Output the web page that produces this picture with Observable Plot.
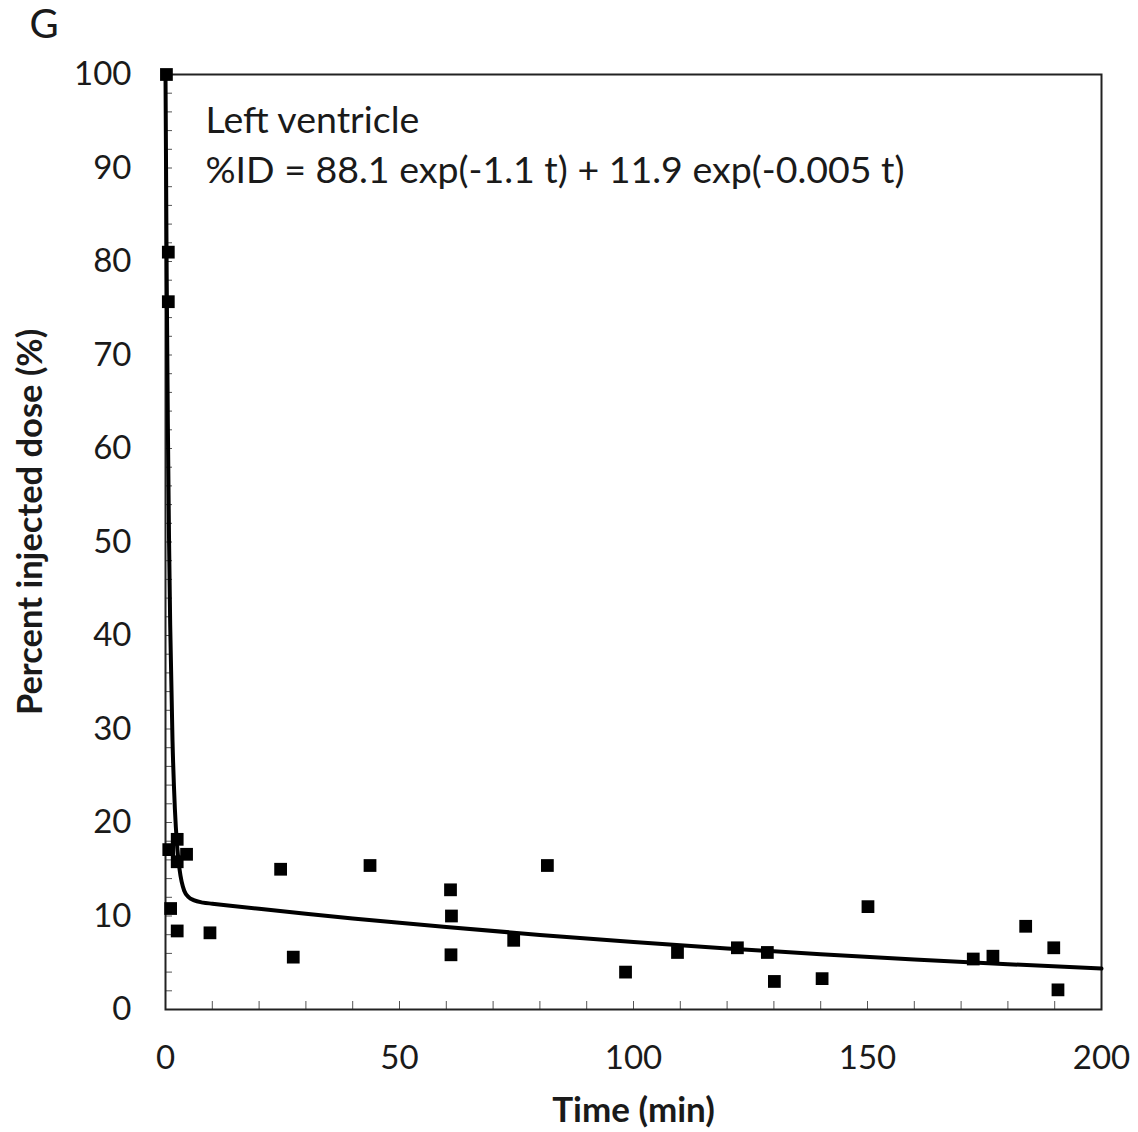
<!DOCTYPE html>
<html>
<head>
<meta charset="utf-8">
<script src="https://cdn.jsdelivr.net/npm/d3@7"></script>
<script src="https://cdn.jsdelivr.net/npm/@observablehq/plot@0.6"></script>
<style>
  html, body { margin: 0; padding: 0; background: #fff; }
  #chart { width: 1138px; height: 1132px; }
</style>
</head>
<body>
<div id="chart"></div>
<script>
// Measured data points (time in min, percent injected dose)
const timeMin = [0.2, 0.6, 0.6, 0.7, 2.5, 4.5, 2.5, 1.1, 2.5, 9.5, 24.6, 27.3, 43.7,
  60.9, 61.1, 61.0, 74.4, 81.6, 98.3, 109.4, 122.2, 128.6, 130.1, 140.3, 150.1,
  172.6, 176.8, 183.8, 189.8, 190.7];
const percentID = [100, 81, 75.7, 17.1, 18.2, 16.6, 15.8, 10.8, 8.4, 8.2, 15.0, 5.6, 15.4,
  12.8, 10.0, 5.85, 7.4, 15.4, 4.0, 6.1, 6.6, 6.1, 3.0, 3.3, 11.0,
  5.4, 5.7, 8.9, 6.6, 2.1];

// Fitted curve
const curveT = [0, 0.25, 0.5, 0.75, 1, 1.5, 2, 2.5, 3, 4, 5, 6, 8, 10, 20, 30, 40, 50,
  60, 80, 100, 120, 140, 160, 180, 200];
const curveV = [100, 78.8, 62.7, 50.5, 41.2, 28.7, 21.5, 17.4, 15.0, 12.7, 12.0, 11.7,
  11.43, 11.32, 10.77, 10.24, 9.74, 9.27, 8.82, 7.98, 7.22, 6.53, 5.91, 5.35, 4.84, 4.38];

const xMajor = [0, 50, 100, 150, 200];
const yMajor = [0, 10, 20, 30, 40, 50, 60, 70, 80, 90, 100];
const xMinor = d3.range(10, 200, 10);
const yMinor = d3.range(2, 100, 2);

const panelLabel = ["G"];
const annotation = ["Left ventricle", "%ID = 88.1 exp(-1.1 t) + 11.9 exp(-0.005 t)"];

const points = timeMin.map((t, i) => ({t, v: percentID[i]}));
const curve = curveT.map((t, i) => ({t, v: curveV[i]}));

const font = "Lato, 'Open Sans', sans-serif";
const ink = "#1a1a1a";

const chart = Plot.plot({
  width: 1138,
  height: 1132,
  marginLeft: 165,
  marginRight: 37,
  marginTop: 74,
  marginBottom: 123,
  style: {fontFamily: font, color: ink, background: "#fff", overflow: "visible"},
  x: {domain: [0, 200]},
  y: {domain: [0, 100]},
  marks: [
    Plot.axisX({ticks: xMinor, tickSize: -8, tickFormat: () => "", label: null, stroke: "#555"}),
    Plot.axisY({ticks: yMinor, tickSize: -7, tickFormat: () => "", label: null, stroke: "#555"}),
    Plot.axisX({ticks: xMajor, tickSize: 0, tickPadding: 36, fontSize: 33, label: null}),
    Plot.axisY({ticks: yMajor, tickSize: 0, tickPadding: 34, fontSize: 33, label: null}),
    Plot.frame({stroke: "#222", strokeWidth: 2}),
    Plot.line(curve, {x: "t", y: "v", stroke: "#000", strokeWidth: 4, curve: "monotone-x"}),
    Plot.dot(points, {x: "t", y: "v", symbol: "square", r: 7.2, fill: "#000", stroke: "none"}),
    Plot.text([annotation[0]], {frameAnchor: "top-left", dx: 40, dy: 46, text: d => d,
      lineAnchor: "middle", fontSize: 37.5, textAnchor: "start", fill: ink}),
    Plot.text([annotation[1]], {frameAnchor: "top-left", dx: 40, dy: 96, text: d => d,
      lineAnchor: "middle", fontSize: 37.5, textAnchor: "start", fill: ink}),
    Plot.text(panelLabel, {frameAnchor: "top-left", dx: -136, dy: -49, text: d => d,
      lineAnchor: "middle", fontSize: 40, textAnchor: "start", fill: ink}),
    Plot.text(["Time (min)"], {frameAnchor: "bottom", dy: 101, text: d => d,
      lineAnchor: "middle", fontSize: 35, fontWeight: "bold", fill: ink}),
    Plot.text(["Percent injected dose (%)"], {frameAnchor: "left", dx: -135, dy: -20, rotate: -90,
      textAnchor: "middle", lineAnchor: "middle",
      text: d => d, fontSize: 34.5, fontWeight: "bold", fill: ink})
  ]
});
document.getElementById("chart").appendChild(chart);
</script>
</body>
</html>
